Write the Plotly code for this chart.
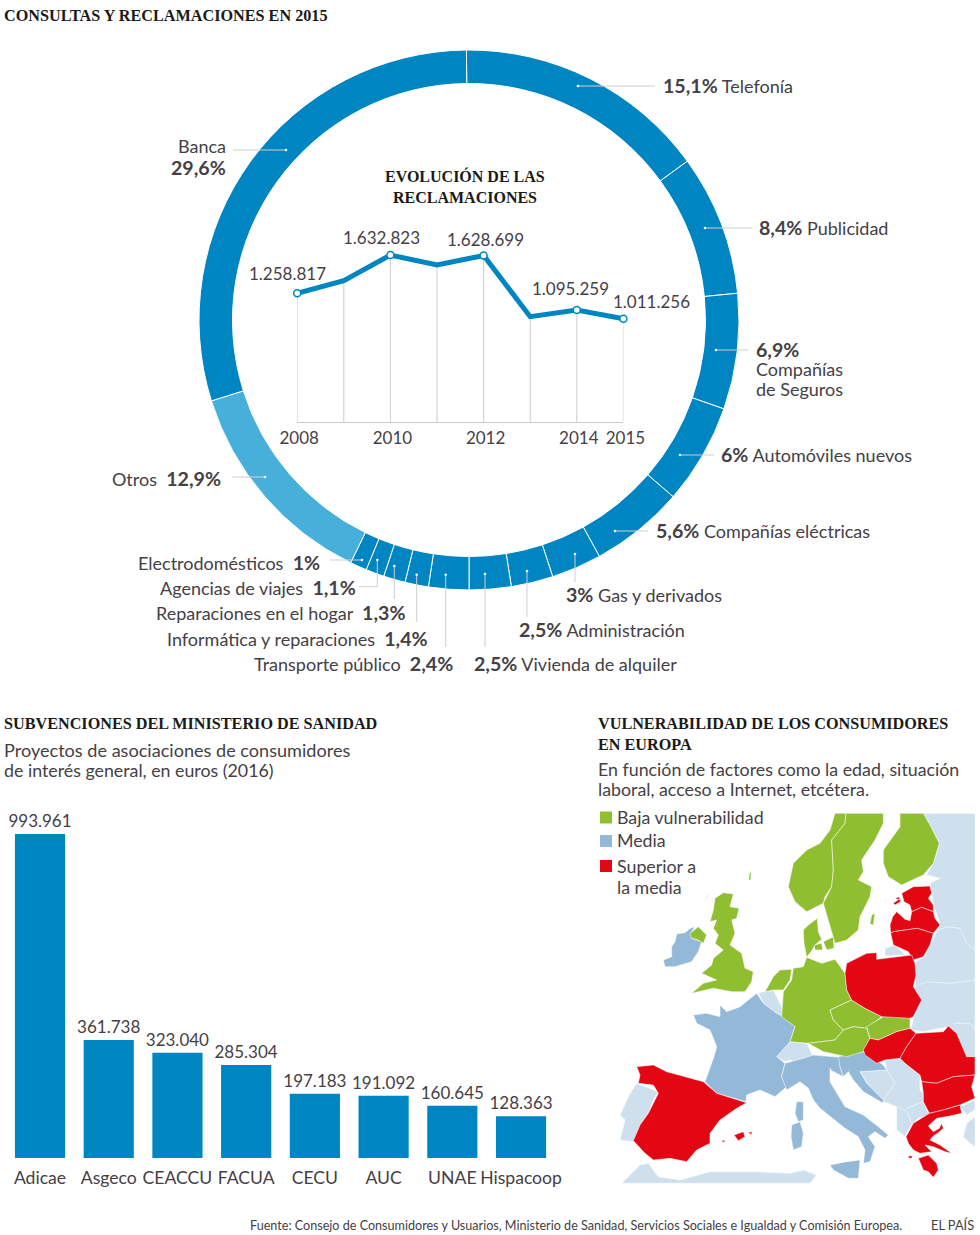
import plotly.graph_objects as go

W, H = 980, 1235
FONT = "Lato"
SERIF = "Liberation Serif"
INK = "#454045"
BLUE = "#0085c3"
SKY = "#47b0da"
GREEN = "#8fbe31"
MID = "#93b8d8"
PALE = "#cee0ee"
RED = "#e30613"

# ---- donut
PIE_NAMES = ["Telefonía", "Publicidad", "Compañías de Seguros", "Automóviles nuevos", "Compañías eléctricas",
             "Gas y derivados", "Administración", "Vivienda de alquiler", "Transporte público",
             "Informática y reparaciones", "Reparaciones en el hogar", "Agencias de viajes",
             "Electrodomésticos", "Otros", "Banca"]
PIE_VALUES = [15.1, 8.4, 6.9, 6, 5.6, 3, 2.5, 2.5, 2.4, 1.4, 1.3, 1.1, 1, 12.9, 29.6]
PIE_COLORS = [BLUE] * 13 + [SKY, BLUE]

# ---- line
YEARS = [2008, 2009, 2010, 2011, 2012, 2013, 2014, 2015]
CLAIMS = [1258817, 1382000, 1632823, 1535000, 1628699, 1031000, 1095259, 1011256]
LABEL_YEARS = [2008, 2010, 2012, 2014, 2015]
LABEL_CLAIMS = [1258817, 1632823, 1628699, 1095259, 1011256]
LABEL_TEXT = ["1.258.817", "1.632.823", "1.628.699", "1.095.259", "1.011.256"]
LABEL_SHIFT = [(-10, 20), (-9, 18), (2, 16), (-6, 22), (28, 17)]

# ---- bars
ASSOC = ["Adicae", "Asgeco", "CEACCU", "FACUA", "CECU", "AUC", "UNAE", "Hispacoop"]
GRANTS = [993961, 361738, 323040, 285304, 197183, 191092, 160645, 128363]
GRANT_TEXT = ["993.961", "361.738", "323.040", "285.304", "197.183", "191.092", "160.645", "128.363"]

# ---- map outlines (map units)
EAST = [(1000,40),(1020,75),(1048,130),(1030,190),(1010,225),(1050,235),(1020,250),(1030,310),(1050,375),(1025,430),(1005,470),(975,485),(978,520),(975,570),(995,600),(972,650),(962,690),(1000,695),(1075,680),(1100,700),(1130,770),(1155,770),(1155,40)]
KALININGRAD = [(885,445),(915,435),(945,465),(885,468)]
TURKEY_A = [(1110,920),(1155,900),(1155,930),(1130,945)]
TURKEY_B = [(1155,950),(1130,970),(1120,1010),(1140,1030),(1155,1040)]
AFRICA = [(95,1150),(150,1095),(175,1090),(205,1130),(270,1140),(360,1115),(500,1115),(600,1120),(640,1110),(680,1125),(660,1150)]
PORTUGAL = [(140,850),(205,875),(190,900),(175,940),(150,975),(145,1000),(130,1025),(90,1020),(105,960),(90,945),(120,880)]
BELGIUM = [(505,578),(550,570),(565,600),(578,625),(580,650),(560,640),(520,610)]
SWISS = [(560,770),(600,725),(650,730),(670,770),(640,775),(625,790),(600,780),(585,785)]
BALKANS = [(810,815),(890,810),(885,780),(930,775),(945,790),(990,825),(990,870),(1000,880),(1000,905),(1018,945),(985,955),(965,975),(950,1000),(945,1010),(920,990),(920,920),(880,905),(830,850)]
FRANCE = [(310,645),(350,640),(390,650),(390,615),(410,635),(450,620),(500,580),(520,610),(560,640),(580,650),(615,680),(600,725),(560,770),(585,790),(575,830),(590,860),(555,890),(510,870),(470,885),(468,905),(380,880),(345,845),(372,770),(380,740),(360,690),(320,670)]
CORSICA = [(620,905),(640,905),(640,960),(625,965),(615,940)]
SARDINIA = [(605,975),(630,965),(640,1000),(635,1040),(610,1050),(603,1010)]
IRELAND = [(260,402),(285,398),(300,385),(315,380),(305,395),(305,415),(335,425),(325,455),(305,485),(255,500),(225,500),(220,480),(245,470),(245,440),(255,425)]
ITALY = [(575,830),(585,790),(640,775),(670,765),(750,772),(750,800),(760,830),(725,812),(720,805),(720,845),(765,920),(820,945),(865,980),(895,1005),(885,1015),(855,995),(835,1010),(855,1040),(840,1085),(820,1090),(825,1050),(805,1010),(765,985),(690,925),(670,900),(655,865),(630,845),(590,870)]
SICILY = [(720,1095),(770,1085),(810,1080),(805,1135),(775,1135),(730,1110)]
CROATIA = [(745,770),(820,755),(880,795),(890,810),(810,815),(830,850),(880,900),(880,910),(820,875),(790,840),(775,815),(760,830),(750,800)]
NIRELAND = [(300,400),(325,380),(350,405),(340,430),(325,420),(305,415)]
BRITAIN = [(375,295),(400,278),(430,282),(420,320),(447,325),(440,355),(425,360),(435,400),(420,435),(455,460),(465,505),(490,515),(485,545),(465,575),(425,575),(370,565),(305,580),(340,550),(380,540),(335,520),(365,495),(370,475),(400,450),(375,430),(385,405),(370,385),(380,360),(360,365),(370,330)]
HEBRIDES = [(350,290),(360,280),(345,300)]
SHETLAND = [(478,222),(484,212),(482,240),(476,240)]
NETHERLANDS = [(525,575),(550,530),(570,510),(605,508),(600,540),(580,570),(550,570)]
GERMANY = [(650,472),(665,478),(695,490),(735,478),(765,520),(770,570),(785,600),(720,630),(730,660),(760,690),(735,720),(655,730),(600,725),(615,680),(575,650),(580,575),(605,540),(610,505),(640,500)]
JUTLAND = [(640,390),(655,375),(682,355),(685,395),(695,418),(675,435),(665,452),(650,472),(642,430)]
ZEALAND = [(700,425),(730,410),(732,445),(710,450)]
FUNEN = [(673,435),(695,430),(698,450),(675,450)]
CZECHIA = [(720,630),(785,600),(825,625),(875,650),(830,685),(790,680),(760,690),(730,660)]
AUSTRIA = [(655,730),(735,720),(760,690),(790,680),(830,685),(840,715),(820,755),(770,770),(700,755)]
SLOVAKIA = [(830,680),(880,650),(960,652),(960,685),(920,695),(865,720),(840,715)]
NORWAY = [(735,40),(768,40),(765,70),(725,120),(730,210),(725,260),(705,290),(700,310),(650,335),(615,305),(595,260),(610,190),(650,150),(690,130),(720,90)]
SWEDEN = [(768,40),(880,40),(880,70),(855,120),(815,180),(820,215),(805,240),(845,260),(840,290),(810,350),(805,390),(770,420),(735,430),(715,360),(700,310),(725,260),(730,210),(725,120),(765,70)]
GOTLAND = [(845,345),(855,340),(850,375),(840,372)]
FINLAND = [(930,40),(1000,40),(1020,75),(1048,130),(1030,190),(1000,225),(935,255),(895,230),(880,190),(880,150),(930,80)]
SPAIN = [(140,800),(190,795),(230,815),(340,845),(380,880),(470,908),(440,925),(390,960),(360,1000),(360,1030),(320,1050),(290,1085),(240,1075),(190,1080),(165,1060),(130,1022),(150,975),(175,940),(205,880),(190,855),(145,850),(150,825)]
MALLORCA = [(432,1005),(460,995),(465,1010),(445,1022)]
MENORCA = [(475,997),(486,995),(484,1005)]
IBIZA = [(394,1022),(405,1020),(402,1028)]
ESTONIA = [(935,280),(970,260),(1020,258),(1025,280),(1015,295),(1030,315),(1030,335),(995,322),(965,335),(960,315),(942,305)]
SAAREMAA = [(910,310),(930,295),(932,305),(915,315)]
HIIUMAA = [(915,295),(928,290),(928,300)]
LATVIA = [(900,375),(908,350),(920,335),(945,358),(960,362),(965,335),(995,322),(1030,335),(1035,355),(1050,375),(1030,400),(982,385),(910,395),(902,400)]
LITHUANIA = [(902,400),(910,395),(982,385),(1030,400),(1020,435),(1000,470),(970,480),(955,455),(910,435)]
POLAND = [(770,490),(830,460),(860,458),(860,478),(965,465),(975,490),(978,525),(970,560),(995,600),(970,650),(960,655),(900,650),(875,650),(825,625),(785,600),(770,570),(765,520)]
HUNGARY = [(820,750),(840,715),(865,720),(920,695),(960,685),(978,700),(950,740),(930,775),(885,780),(860,790),(825,765)]
ROMANIA = [(978,700),(1060,695),(1075,678),(1100,700),(1130,770),(1155,770),(1155,825),(1090,830),(1040,850),(995,845),(990,825),(945,790),(930,775),(950,740)]
BULGARIA = [(995,845),(1040,850),(1090,830),(1155,825),(1145,860),(1155,895),(1110,915),(1060,930),(1018,940),(1000,905),(1000,880)]
GREECE = [(1018,940),(1060,930),(1110,915),(1115,940),(1080,948),(1040,955),(1015,978),(1030,995),(1048,985),(1055,970),(1060,985),(1045,998),(1030,1008),(1020,1020),(1050,1035),(1085,1060),(1065,1055),(1030,1040),(1005,1035),(1025,1055),(990,1060),(970,1050),(955,1030),(948,1010),(970,970)]
PELOPONNESE = [(985,1075),(1015,1065),(1040,1090),(1045,1110),(1030,1132),(1015,1115),(1000,1110)]
CORFU = [(955,1068),(967,1067),(965,1075),(957,1075)]
PALE_LANDS = [EAST, KALININGRAD, TURKEY_A, TURKEY_B, AFRICA, PORTUGAL, BELGIUM, SWISS, BALKANS]
MID_LANDS = [FRANCE, CORSICA, SARDINIA, IRELAND, ITALY, SICILY, CROATIA]
GREEN_LANDS = [NIRELAND, BRITAIN, HEBRIDES, SHETLAND, NETHERLANDS, GERMANY, JUTLAND, ZEALAND, FUNEN, CZECHIA, AUSTRIA, SLOVAKIA, NORWAY, SWEDEN, GOTLAND, FINLAND]
RED_LANDS = [SPAIN, MALLORCA, MENORCA, IBIZA, ESTONIA, SAAREMAA, HIIUMAA, LATVIA, LITHUANIA, POLAND, HUNGARY, ROMANIA, BULGARIA, GREECE, PELOPONNESE, CORFU]
EAST_BORDERS = [[(1030,400),(1070,380),(1110,385),(1130,430),(1155,450)], [(975,560),(1010,545),(1080,550),(1155,540)], [(1090,670),(1140,670),(1155,690)], [(920,920),(950,935),(965,970)], [(950,925),(1000,905)], [(890,810),(915,850),(880,900)]]

LEGEND_COLORS = [GREEN, MID, RED]


def px_x(x):
    return x / W


def px_y(y):
    return 1 - y / H


def num(t):
    return f'<span style="font-weight:700;font-size:19.6px">{t}</span>'


fig = go.Figure()

fig.add_trace(go.Pie(
    labels=PIE_NAMES, values=PIE_VALUES, sort=False, direction="clockwise", rotation=-0.55, hole=236.5 / 270,
    marker=dict(colors=PIE_COLORS, line=dict(color="white", width=1)), textinfo="none", showlegend=False,
    domain=dict(x=[px_x(199), px_x(739)], y=[px_y(590), px_y(50)])))

fig.add_trace(go.Scatter(
    x=YEARS, y=CLAIMS, mode="lines", line=dict(color=BLUE, width=5), showlegend=False, cliponaxis=False,
    error_y=dict(type="percent", symmetric=False, value=0, valueminus=100, color="#cccccc", thickness=1, width=0),
    xaxis="x", yaxis="y"))
fig.add_trace(go.Scatter(
    x=LABEL_YEARS, y=LABEL_CLAIMS, mode="markers", showlegend=False, cliponaxis=False,
    marker=dict(color="white", size=7, line=dict(color=BLUE, width=1.5)), xaxis="x", yaxis="y"))

fig.add_trace(go.Bar(
    x=ASSOC, y=GRANTS, text=GRANT_TEXT, textposition="outside", cliponaxis=False, constraintext="none",
    textfont=dict(family=FONT, size=17, color=INK, weight=400), marker=dict(color=BLUE, line=dict(width=0)),
    showlegend=False, xaxis="x2", yaxis="y2"))

for lands, colour in [(PALE_LANDS, PALE), (MID_LANDS, MID), (GREEN_LANDS, GREEN), (RED_LANDS, RED)]:
    for land in lands:
        fig.add_trace(go.Scatter(
            x=[p[0] for p in land] + [land[0][0]], y=[p[1] for p in land] + [land[0][1]],
            mode="lines", fill="toself", fillcolor=colour, line=dict(color="rgba(255,255,255,0.75)", width=0.7),
            hoverinfo="skip", showlegend=False, xaxis="x3", yaxis="y3"))
for line in EAST_BORDERS:
    fig.add_trace(go.Scatter(x=[p[0] for p in line], y=[p[1] for p in line], mode="lines",
                             line=dict(color="rgba(255,255,255,0.75)", width=0.7), hoverinfo="skip",
                             showlegend=False, xaxis="x3", yaxis="y3"))

texts = []


def label(x, y, text, anchor="left", size=18, family=FONT, color=INK, weight=400):
    texts.append(dict(x=x, y=y - 0.6, xref="x4", yref="y4", text=text, showarrow=False, xanchor=anchor, yanchor="middle",
                      align=anchor, borderpad=0, borderwidth=0, font=dict(family=family, size=size, color=color, weight=weight)))


for x, y, t in [(4, 16.5, "CONSULTAS Y RECLAMACIONES EN 2015"), (4, 724.5, "SUBVENCIONES DEL MINISTERIO DE SANIDAD"),
                (598, 724.5, "VULNERABILIDAD DE LOS CONSUMIDORES"), (598, 745.5, "EN EUROPA")]:
    label(x, y, f"<b>{t}</b>", size=16.2, family=SERIF, color="#1a1a1a")
for y, t in [(177, "EVOLUCIÓN DE LAS"), (198, "RECLAMACIONES")]:
    label(465, y, f"<b>{t}</b>", anchor="center", size=16, family=SERIF, color="#1a1a1a")
for x, y, t, s in [(4, 751, "Proyectos de asociaciones de consumidores", 18.1), (4, 771, "de interés general, en euros (2016)", 17.8),
                   (598, 770, "En función de factores como la edad, situación", 17.8), (598, 790, "laboral, acceso a Internet, etcétera.", 17.8)]:
    label(x, y, t, size=s)

for x, y, t, a in [
    (663, 86, f"{num('15,1%')} Telefonía", "left"), (759, 228, f"{num('8,4%')} Publicidad", "left"),
    (756, 350, num("6,9%"), "left"), (756, 370, "Compañías", "left"), (756, 390, "de Seguros", "left"),
    (721, 455, f"{num('6%')} Automóviles nuevos", "left"), (656, 531, f"{num('5,6%')} Compañías eléctricas", "left"),
    (566, 595, f"{num('3%')} Gas y derivados", "left"), (519, 630, f"{num('2,5%')} Administración", "left"),
    (474, 664, f"{num('2,5%')} Vivienda de alquiler", "left"), (453, 664, f"Transporte público  {num('2,4%')}", "right"),
    (428, 639, f"Informática y reparaciones  {num('1,4%')}", "right"), (405, 613, f"Reparaciones en el hogar  {num('1,3%')}", "right"),
    (356, 588, f"Agencias de viajes  {num('1,1%')}", "right"), (320, 563, f"Electrodomésticos  {num('1%')}", "right"),
    (221, 479, f"Otros  {num('12,9%')}", "right"), (226, 147, "Banca", "right"), (226, 168, num("29,6%"), "right")]:
    label(x, y, t, anchor=a, size=18)

label(250, 1226, "Fuente: Consejo de Consumidores y Usuarios, Ministerio de Sanidad, Servicios Sociales e Igualdad y Comisión Europea.", size=12.6)
label(931, 1226, "EL PAÍS", size=12.8)

for y, name in [(818, "Baja vulnerabilidad"), (841, "Media"), (867, "Superior a"), (888, "la media")]:
    label(617, y, name, size=17.8)

for yr, val, txt, (dx, dy) in zip(LABEL_YEARS, LABEL_CLAIMS, LABEL_TEXT, LABEL_SHIFT):
    texts.append(dict(x=yr, y=val, xref="x", yref="y", text=txt, showarrow=False, xshift=dx, yshift=dy,
                      font=dict(family=FONT, size=17, color=INK, weight=400)))

shapes = []
LEADERS = [
    [(578, 86), (655, 86)], [(705, 228), (752, 228)], [(716, 350), (748, 350)], [(680, 455), (714, 455)],
    [(615, 531), (648, 531)], [(575, 554), (575, 582)], [(527, 571), (527, 617)], [(485, 574), (485, 647)],
    [(445.7, 574.7), (445.7, 647)], [(416.7, 574.7), (416.7, 622)], [(394.3, 566), (394.3, 599)],
    [(377.3, 560), (377.3, 586.7), (359, 586.7)], [(362, 560), (330, 560)], [(265, 477), (232, 477)], [(286, 150), (233, 150)]]
for pts in LEADERS:
    path = "M " + " L ".join(f"{x} {y}" for x, y in pts)
    shapes.append(dict(type="path", path=path, xref="x4", yref="y4", line=dict(color="#cfcfcf", width=1), layer="above"))
    x, y = pts[0]
    shapes.append(dict(type="circle", x0=x - 1.3, x1=x + 1.3, y0=y - 1.3, y1=y + 1.3, xref="x4", yref="y4",
                       fillcolor="white", line=dict(width=0), layer="above"))
for colour, y in zip(LEGEND_COLORS, [817.5, 841, 866]):
    shapes.append(dict(type="rect", x0=600, x1=612, y0=y - 6, y1=y + 6, xref="x4", yref="y4",
                       fillcolor=colour, line=dict(width=0), layer="above"))

hidden = dict(visible=False, fixedrange=True)
fig.update_layout(
    width=W, height=H, autosize=False, margin=dict(l=0, r=0, t=0, b=0, pad=0), paper_bgcolor="white", plot_bgcolor="rgba(0,0,0,0)",
    font=dict(family=FONT, size=18, color=INK), showlegend=False, annotations=texts, shapes=shapes, bargap=0.27,
    xaxis=dict(domain=[px_x(297.2), px_x(623.4)], range=[2008, 2015], tickmode="array", tickvals=LABEL_YEARS, anchor="y",
               ticktext=[str(v) for v in LABEL_YEARS], showgrid=False, zeroline=False, showline=True, linecolor="#cccccc", linewidth=1,
               ticks="", ticklabelshift=2, tickfont=dict(family=FONT, size=17, color=INK, weight=400), automargin=False),
    yaxis=dict(domain=[px_y(422.3), px_y(222.3)], range=[0, 200 / 1.0245e-4], anchor="x", visible=False),
    xaxis2=dict(domain=[px_x(5.65), px_x(555.4)], range=[-0.5, 7.5], type="category", tickangle=0, showgrid=False, zeroline=False, anchor="y2",
                ticks="outside", ticklen=4, tickcolor="rgba(0,0,0,0)", tickfont=dict(family=FONT, size=17.6, color=INK, weight=400), automargin=False),
    yaxis2=dict(domain=[px_y(1158), px_y(800)], range=[0, 358 / 3.26e-4], anchor="x2", visible=False),
    xaxis3=dict(domain=[px_x(590), 1], range=[0, 1170], anchor="y3", **hidden),
    yaxis3=dict(domain=[px_y(1200), px_y(800)], range=[1200, 0], anchor="x3", **hidden),
    xaxis4=dict(domain=[0, 1], range=[0, W], anchor="y4", **hidden),
    yaxis4=dict(domain=[0, 1], range=[H, 0], anchor="x4", **hidden),
)

fig.write_html("out.html", config=dict(displayModeBar=False, responsive=False),
               post_script="document.body.style.margin='0';document.body.style.overflow='hidden';")
